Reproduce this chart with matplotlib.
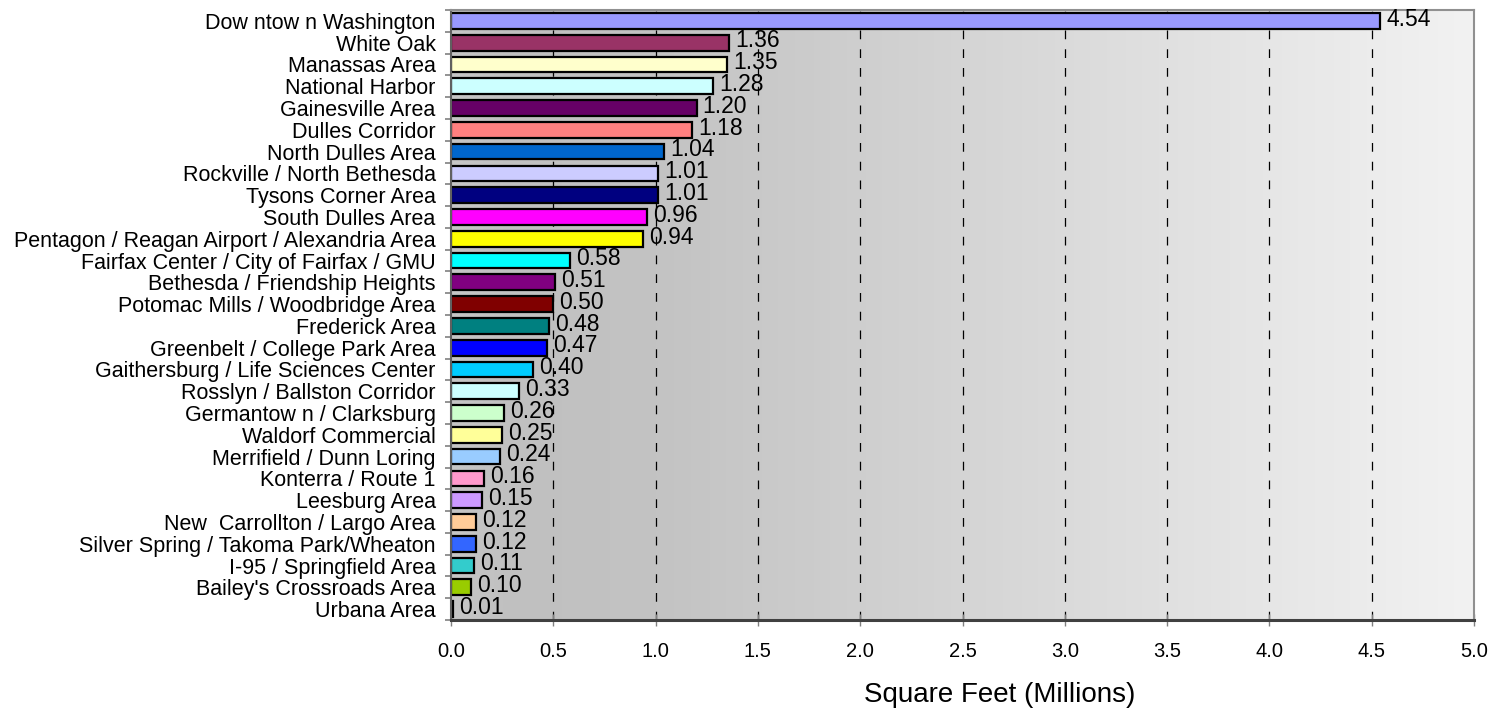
import matplotlib
matplotlib.use("Agg")
import matplotlib.pyplot as plt
import numpy as np
from matplotlib.colors import LinearSegmentedColormap

plt.rcParams['font.family'] = ['Liberation Sans', 'DejaVu Sans']

categories = [
    "Dow ntow n Washington", "White Oak", "Manassas Area", "National Harbor",
    "Gainesville Area", "Dulles Corridor", "North Dulles Area",
    "Rockville / North Bethesda", "Tysons Corner Area", "South Dulles Area",
    "Pentagon / Reagan Airport / Alexandria Area",
    "Fairfax Center / City of Fairfax / GMU", "Bethesda / Friendship Heights",
    "Potomac Mills / Woodbridge Area", "Frederick Area",
    "Greenbelt / College Park Area", "Gaithersburg / Life Sciences Center",
    "Rosslyn / Ballston Corridor", "Germantow n / Clarksburg",
    "Waldorf Commercial", "Merrifield / Dunn Loring", "Konterra / Route 1",
    "Leesburg Area", "New  Carrollton / Largo Area",
    "Silver Spring / Takoma Park/Wheaton", "I-95 / Springfield Area",
    "Bailey's Crossroads Area", "Urbana Area",
]
values = [4.54, 1.36, 1.35, 1.28, 1.20, 1.18, 1.04, 1.01, 1.01, 0.96, 0.94,
          0.58, 0.51, 0.50, 0.48, 0.47, 0.40, 0.33, 0.26, 0.25, 0.24, 0.16,
          0.15, 0.12, 0.12, 0.11, 0.10, 0.01]
value_labels = ["4.54", "1.36", "1.35", "1.28", "1.20", "1.18", "1.04", "1.01",
                "1.01", "0.96", "0.94", "0.58", "0.51", "0.50", "0.48", "0.47",
                "0.40", "0.33", "0.26", "0.25", "0.24", "0.16", "0.15", "0.12",
                "0.12", "0.11", "0.10", "0.01"]
colors = ["#9999FF", "#993366", "#FFFFCC", "#CCFFFF", "#660066", "#FF8080",
          "#0066CC", "#CCCCFF", "#000080", "#FF00FF", "#FFFF00", "#00FFFF",
          "#800080", "#800000", "#008080", "#0000FF", "#00CCFF", "#CCFFFF",
          "#CCFFCC", "#FFFF99", "#99CCFF", "#FF99CC", "#CC99FF", "#FFCC99",
          "#3366FF", "#33CCCC", "#99CC00", "#FFCC00"]
xticks = [0.0, 0.5, 1.0, 1.5, 2.0, 2.5, 3.0, 3.5, 4.0, 4.5, 5.0]
xtick_labels = ["0.0", "0.5", "1.0", "1.5", "2.0", "2.5", "3.0", "3.5", "4.0", "4.5", "5.0"]

fig = plt.figure(figsize=(15.07, 7.10), dpi=100)
ax = fig.add_axes([451/1507, 1-620/710, (1474-451)/1507, (620-10)/710])

n = len(categories)
ypos = np.arange(n)

# gradient background
cmap = LinearSegmentedColormap.from_list(
    "bg", [(0.0, "#c6c6c6"), (0.06, "#c0c0c0"), (0.2, "#c3c3c3"), (1.0, "#f2f2f2")])
grad = np.linspace(0, 1, 512).reshape(1, -1)
ax.imshow(grad, extent=[0, 5, n - 0.5, -0.5], aspect='auto', cmap=cmap,
          zorder=0, interpolation='bilinear')

for x in xticks[1:-1]:
    ax.axvline(x, color='black', linestyle=(0, (7, 8)), linewidth=0.9, zorder=1)

ax.barh(ypos, values, height=0.72, color=colors, edgecolor='black',
        linewidth=1.6, zorder=2)

for y, v, lab in zip(ypos, values, value_labels):
    ax.text(v + 0.03, y - 0.08, lab, va='center', ha='left', fontsize=16.5,
            color='black', zorder=3)

ax.set_xlim(0, 5)
ax.set_ylim(n - 0.5, -0.5)

ax.set_yticks(ypos)
ax.set_yticklabels(categories, fontsize=15.5)
ax.set_yticks(np.arange(n + 1) - 0.5, minor=True)
ax.tick_params(axis='y', which='major', length=0, pad=11)
ax.tick_params(axis='y', which='minor', length=4.5, color='#808080', width=1.2)

ax.set_xticks(xticks)
ax.set_xticklabels(xtick_labels, fontsize=14.5)
ax.tick_params(axis='x', which='major', direction='inout', length=8,
               color='#808080', width=1.0, pad=12)

ax.set_xlabel("Square Feet (Millions)", fontsize=20)
ax.xaxis.set_label_coords(0.536, -0.102)

for side in ['top', 'right']:
    ax.spines[side].set_color('#909090')
    ax.spines[side].set_linewidth(1.5)
ax.spines['left'].set_color('#606060')
ax.spines['left'].set_linewidth(1.5)
ax.spines['bottom'].set_color('#404040')
ax.spines['bottom'].set_linewidth(2.2)

fig.savefig("out.png", dpi=100)
